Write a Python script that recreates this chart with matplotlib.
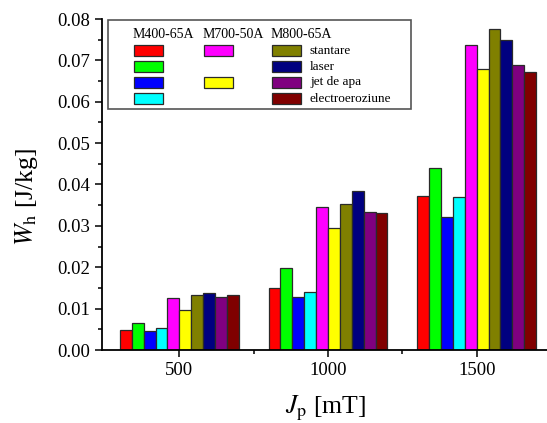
import numpy as np
import matplotlib.pyplot as plt
from matplotlib.patches import Rectangle
from matplotlib.ticker import MultipleLocator, FixedLocator, FormatStrFormatter

plt.rcParams['font.family'] = 'Liberation Serif'
plt.rcParams['mathtext.fontset'] = 'stix'

# induction values [mT]
jp = [500, 1000, 1500]

# hysteresis energy W_h [J/kg] per material / cutting method
m400_stantare = [0.0048, 0.0151, 0.0372]
m400_laser = [0.0066, 0.0199, 0.0441]
m400_jet = [0.0046, 0.0128, 0.0321]
m400_electro = [0.0052, 0.0139, 0.0369]
m700_stantare = [0.0126, 0.0345, 0.0736]
m700_jet = [0.0097, 0.0295, 0.0678]
m800_stantare = [0.0134, 0.0352, 0.0775]
m800_laser = [0.0137, 0.0384, 0.0750]
m800_jet = [0.0128, 0.0333, 0.0690]
m800_electro = [0.0134, 0.0332, 0.0673]

series = [m400_stantare, m400_laser, m400_jet, m400_electro,
          m700_stantare, m700_jet,
          m800_stantare, m800_laser, m800_jet, m800_electro]
colors = ['#FF0000', '#00FF00', '#0000FF', '#00FFFF',
          '#FF00FF', '#FFFF00',
          '#808000', '#000080', '#800080', '#800000']

W, H = 547, 423
fig = plt.figure(figsize=(W / 100, H / 100), dpi=100)
ax = fig.add_axes([102 / W, 1 - 350 / H, 452 / W, 331 / H])

bw = 40
x = np.array(jp)
for i, (vals, c) in enumerate(zip(series, colors)):
    ax.bar(x - 200 + bw * i, vals, width=bw, align='edge', color=c,
           edgecolor='#2a2a2a', linewidth=0.9)

ax.set_xlim(240, 1760)
ax.set_ylim(0, 0.08)
ax.xaxis.set_major_locator(FixedLocator(jp))
ax.xaxis.set_minor_locator(FixedLocator([750, 1250]))
ax.yaxis.set_major_locator(MultipleLocator(0.01))
ax.yaxis.set_minor_locator(MultipleLocator(0.005))
ax.yaxis.set_major_formatter(FormatStrFormatter('%.2f'))
ax.tick_params(which='major', direction='out', length=5, width=1.1, labelsize=13.5)
ax.tick_params(which='minor', direction='out', length=3, width=1.1)
ax.spines['top'].set_visible(False)
ax.spines['right'].set_visible(False)
for s in ['left', 'bottom']:
    ax.spines[s].set_linewidth(1.3)

fig.text(26 / W, 1 - 197 / H, r'$W_{\rm h}$ [J/kg]', rotation=90, fontsize=18.5,
         ha='center', va='center')
fig.text(326 / W, 1 - 408 / H, r'$J_{\rm p}$ [mT]', fontsize=18.5,
         ha='center', va='center')


# hand-made legend (table layout)
def px(xp, yp):
    return xp / W, 1 - yp / H


lx, ly = px(108, 109)
fig.patches.append(Rectangle((lx, ly), (411 - 108) / W, (109 - 20) / H,
                             transform=fig.transFigure, facecolor='white',
                             edgecolor='#555555', linewidth=1.2, zorder=5))
headers = ['M400-65A', 'M700-50A', 'M800-65A']
col_x = [134, 204, 272]
for hx, t in zip(col_x, headers):
    fig.text(*px(hx - 1, 34.5), t, fontsize=10, ha='left', va='center', zorder=6)

rows_y = [50.5, 66.5, 82.5, 98.5]
layout = [(0, 0, 0), (0, 1, 1), (0, 2, 2), (0, 3, 3),
          (1, 0, 4), (1, 2, 5),
          (2, 0, 6), (2, 1, 7), (2, 2, 8), (2, 3, 9)]
for col, row, si in layout:
    rx, ry = px(col_x[col], rows_y[row] + 5.3)
    fig.patches.append(Rectangle((rx, ry), 29 / W, 10.6 / H,
                                 transform=fig.transFigure, facecolor=colors[si],
                                 edgecolor='#2a2a2a', linewidth=0.9, zorder=6))
labels = ['stantare', 'laser', 'jet de apa', 'electroeroziune']
for ry, t in zip(rows_y, labels):
    fig.text(*px(310, ry), t, fontsize=9.5, ha='left', va='center', zorder=6)

fig.savefig('out.png', dpi=100)
